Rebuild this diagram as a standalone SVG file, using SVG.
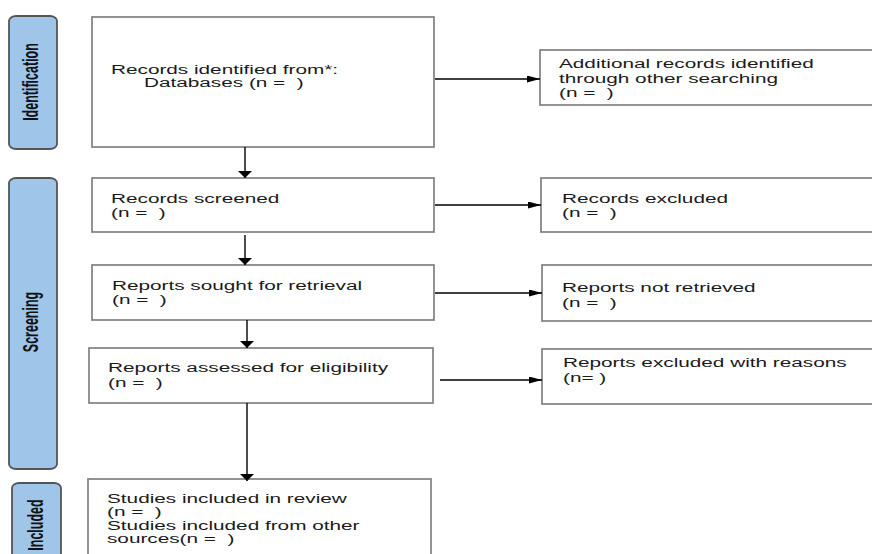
<svg xmlns="http://www.w3.org/2000/svg" width="872" height="554" viewBox="0 0 872 554" xml:space="preserve">
<defs>
<style>
.side{fill:#9fc5e8;stroke:#555;stroke-width:1.8}
.box{fill:#fff;stroke:#808080;stroke-width:1.7}
.t{font-family:"Liberation Sans",Arial,sans-serif;font-size:12px;fill:#1a1a1a;white-space:pre}
.lab{font-family:"Liberation Sans",Arial,sans-serif;font-size:12.5px;font-weight:bold;fill:#111;text-anchor:middle}
.c{stroke:#000;stroke-width:1.4;fill:none}
.ch{marker-end:url(#ah)}
.cv{marker-end:url(#av)}
</style>
<marker id="ah" markerUnits="userSpaceOnUse" markerWidth="14" markerHeight="8" refX="13" refY="3.5" orient="auto"><path d="M0,0 L13,3.5 L0,7 z" fill="#000"/></marker>
<marker id="av" markerUnits="userSpaceOnUse" markerWidth="8" markerHeight="15" refX="7" refY="7" orient="auto"><path d="M0,0 L7,7 L0,14 z" fill="#000"/></marker>
</defs>
<rect width="872" height="554" fill="#fff"/>

<g id="phase-identification">
<rect class="side" x="9" y="16" width="48" height="133" rx="7" ry="5"/>
<text class="lab" transform="translate(37.5,82) rotate(-90) scale(1,1.7)">Identification</text>
</g>
<g id="phase-screening">
<rect class="side" x="9" y="178" width="48" height="291" rx="7" ry="5"/>
<text class="lab" transform="translate(37.5,322) rotate(-90) scale(1,1.7)">Screening</text>
</g>
<g id="phase-included">
<rect class="side" x="12" y="483" width="49" height="100" rx="7" ry="5"/>
<text class="lab" transform="translate(43,525) rotate(-90) scale(1,1.7)">Included</text>
</g>

<g id="records-identified">
<rect class="box" x="92" y="17" width="342" height="130"/>
<text class="t" transform="translate(111,74) scale(1.73,1)">Records identified from*:</text>
<text class="t" transform="translate(144,87) scale(1.73,1)">Databases (n =  )</text>
</g>
<g id="additional-records">
<rect class="box" x="540" y="50" width="345" height="55"/>
<text class="t" transform="translate(559,68) scale(1.73,1)">Additional records identified</text>
<text class="t" transform="translate(559,83) scale(1.73,1)">through other searching</text>
<text class="t" transform="translate(559,97) scale(1.73,1)">(n =  )</text>
</g>
<g id="records-screened">
<rect class="box" x="92" y="178" width="342" height="54"/>
<text class="t" transform="translate(111,203) scale(1.73,1)">Records screened</text>
<text class="t" transform="translate(111,217) scale(1.73,1)">(n =  )</text>
</g>
<g id="records-excluded">
<rect class="box" x="541" y="178" width="345" height="54"/>
<text class="t" transform="translate(562,203) scale(1.73,1)">Records excluded</text>
<text class="t" transform="translate(562,217) scale(1.73,1)">(n =  )</text>
</g>
<g id="reports-sought">
<rect class="box" x="92" y="265" width="342" height="55"/>
<text class="t" transform="translate(112,290) scale(1.73,1)">Reports sought for retrieval</text>
<text class="t" transform="translate(112,304) scale(1.73,1)">(n =  )</text>
</g>
<g id="reports-not-retrieved">
<rect class="box" x="542" y="265" width="345" height="56"/>
<text class="t" transform="translate(562,292) scale(1.73,1)">Reports not retrieved</text>
<text class="t" transform="translate(562,307) scale(1.73,1)">(n =  )</text>
</g>
<g id="reports-assessed">
<rect class="box" x="89" y="348" width="344" height="55"/>
<text class="t" transform="translate(108,372) scale(1.73,1)">Reports assessed for eligibility</text>
<text class="t" transform="translate(108,387) scale(1.73,1)">(n =  )</text>
</g>
<g id="reports-excluded">
<rect class="box" x="542" y="349" width="345" height="55"/>
<text class="t" transform="translate(563,367) scale(1.73,1)">Reports excluded with reasons</text>
<text class="t" transform="translate(563,382) scale(1.73,1)">(n= )</text>
</g>
<g id="studies-included">
<rect class="box" x="88" y="479" width="343" height="100"/>
<text class="t" transform="translate(107,503) scale(1.73,1)">Studies included in review</text>
<text class="t" transform="translate(107,516) scale(1.73,1)">(n =  )</text>
<text class="t" transform="translate(107,530) scale(1.73,1)">Studies included from other</text>
<text class="t" transform="translate(107,543) scale(1.73,1)">sources(n =  )</text>
</g>

<g id="connectors">
<line class="c cv" x1="245" y1="147" x2="245" y2="178"/>
<line class="c cv" x1="245" y1="235" x2="245" y2="265"/>
<line class="c cv" x1="247" y1="320" x2="247" y2="348"/>
<line class="c cv" x1="247" y1="403" x2="247" y2="481"/>
<line class="c ch" x1="435" y1="79" x2="540" y2="79"/>
<line class="c ch" x1="435" y1="205" x2="541" y2="205"/>
<line class="c ch" x1="435" y1="293" x2="542" y2="293"/>
<line class="c ch" x1="440" y1="380" x2="542" y2="380"/>
</g>
</svg>
